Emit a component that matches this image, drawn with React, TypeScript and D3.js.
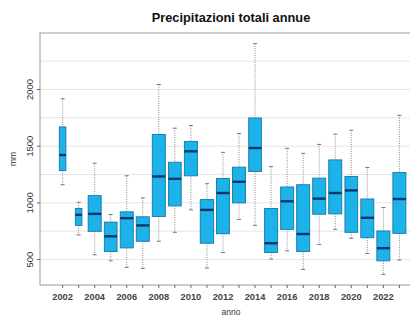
import * as d3 from "d3";

// annual precipitation per station, summarised by year (mm)
const years = [2002, 2003, 2004, 2005, 2006, 2007, 2008, 2009, 2010, 2011, 2012, 2013, 2014, 2015, 2016, 2017, 2018, 2019, 2020, 2021, 2022, 2023];
const whiskerLow = [1160, 717, 542, 489, 431, 422, 661, 740, 938, 425, 562, 854, 801, 504, 577, 413, 632, 766, 687, 553, 369, 495];
const q1 = [1285, 801, 749, 571, 603, 661, 880, 973, 1239, 644, 728, 1000, 1277, 562, 766, 571, 900, 903, 740, 693, 489, 731];
const medians = [1422, 894, 903, 705, 865, 801, 1233, 1212, 1455, 938, 1087, 1186, 1484, 644, 1014, 725, 1037, 1087, 1110, 868, 600, 1034];
const q3 = [1670, 950, 1064, 830, 921, 877, 1603, 1358, 1542, 1029, 1215, 1315, 1749, 950, 1140, 1160, 1218, 1379, 1233, 1034, 752, 1268];
const whiskerHigh = [1918, 1005, 1350, 897, 1239, 1043, 2044, 1659, 1682, 1169, 1446, 1612, 2405, 1320, 1481, 1437, 1516, 1606, 1641, 1312, 959, 1772];
// number of stations per year (box width ~ sqrt(n))
const stations = [5, 5, 20, 19, 20, 20, 20, 19, 20, 21, 20, 20, 19, 20, 20, 20, 20, 20, 19, 20, 20, 20];

const yTicks = [500, 1000, 1500, 2000];
const gridTicks = [250, 500, 750, 1000, 1250, 1500, 1750, 2000, 2250, 2500];
const labelYears = years.filter((y) => y % 2 === 0);

const W = 410;
const H = 316;
const FONT = "'Liberation Sans', Arial, Helvetica, sans-serif";

export default function App() {
  const left = 40;
  const top = 33;
  const bottom = 285;
  const right = 422; // the right side of the panel is cropped off

  const xPad = 1.41;
  const x = d3
    .scaleLinear()
    .domain([years[0] - xPad, years[years.length - 1] + xPad])
    .range([left, right]);

  const lo = d3.min(whiskerLow) ?? 0;
  const hi = d3.max(whiskerHigh) ?? 0;
  const pad = (hi - lo) * 0.046;
  const y = d3.scaleLinear().domain([lo - pad, hi + pad]).range([bottom, top]);

  const maxN = d3.max(stations) ?? 1;
  const boxW = 13.3;
  const capW = 4;

  return (
    <svg
      width={W}
      height={H}
      style={{ position: "fixed", left: 0, top: 0, background: "#fff" }}
      fontFamily={FONT}
    >
      <text x={231} y={21.5} textAnchor="middle" fontSize={12.8} fontWeight="bold" fill="#111">
        Precipitazioni totali annue
      </text>

      {/* grid */}
      {gridTicks
        .filter((t) => y(t) > top && y(t) < bottom)
        .map((t) => (
          <line key={t} x1={left} x2={right} y1={y(t)} y2={y(t)} stroke="#e6e6e6" strokeWidth={1} />
        ))}

      {/* boxes */}
      {years.map((yr, i) => {
        const cx = x(yr);
        const w = boxW * Math.sqrt(stations[i] / maxN);
        return (
          <g key={yr}>
            <line x1={cx} x2={cx} y1={y(whiskerHigh[i])} y2={y(q3[i])} stroke="#8a8a8a" strokeWidth={1} strokeDasharray="1,1.3" />
            <line x1={cx} x2={cx} y1={y(q1[i])} y2={y(whiskerLow[i])} stroke="#8a8a8a" strokeWidth={1} strokeDasharray="1,1.3" />
            <line x1={cx - capW / 2} x2={cx + capW / 2} y1={y(whiskerHigh[i])} y2={y(whiskerHigh[i])} stroke="#777" strokeWidth={1} />
            <line x1={cx - capW / 2} x2={cx + capW / 2} y1={y(whiskerLow[i])} y2={y(whiskerLow[i])} stroke="#777" strokeWidth={1} />
            <rect
              x={cx - w / 2}
              y={y(q3[i])}
              width={w}
              height={y(q1[i]) - y(q3[i])}
              fill="#1bb3ea"
              stroke="#1d7fb0"
              strokeWidth={1}
            />
            <line x1={cx - w / 2} x2={cx + w / 2} y1={y(medians[i])} y2={y(medians[i])} stroke="#0b3566" strokeWidth={2.4} />
          </g>
        );
      })}

      {/* frame */}
      <rect x={left} y={top} width={right - left} height={bottom - top} fill="none" stroke="#9a9a9a" strokeWidth={1} />

      {/* y axis */}
      {yTicks.map((t) => (
        <g key={t}>
          <line x1={left - 3} x2={left} y1={y(t)} y2={y(t)} stroke="#666" />
          <text
            transform={`translate(32.5,${y(t)}) rotate(-90)`}
            textAnchor="middle"
            fontSize={9.5}
            fill="#333"
          >
            {t}
          </text>
        </g>
      ))}
      <text transform={`translate(15.5,${(top + bottom) / 2}) rotate(-90)`} textAnchor="middle" fontSize={8.5} fill="#333">
        mm
      </text>

      {/* x axis */}
      {years.map((yr) => (
        <line key={yr} x1={x(yr)} x2={x(yr)} y1={bottom} y2={bottom + 3} stroke="#666" />
      ))}
      {labelYears.map((yr) => (
        <text key={yr} x={x(yr)} y={299.5} textAnchor="middle" fontSize={9.3} fontWeight="bold" fill="#444">
          {yr}
        </text>
      ))}
      <text x={231} y={315} textAnchor="middle" fontSize={8.5} fill="#333">
        anno
      </text>
    </svg>
  );
}
